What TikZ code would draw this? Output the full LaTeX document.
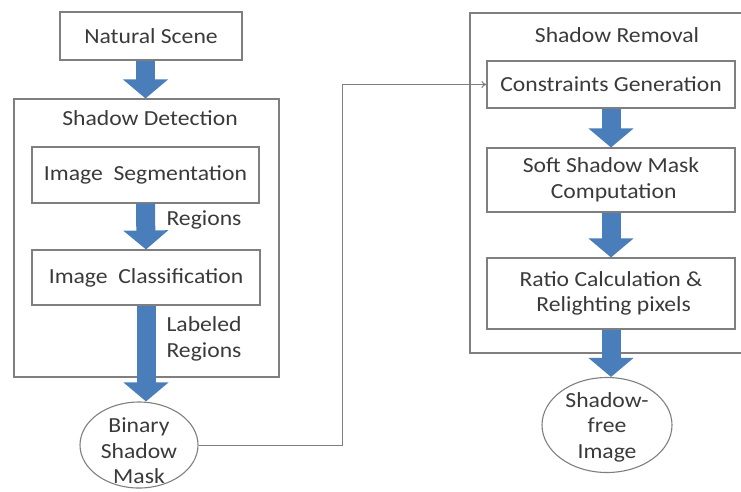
\documentclass[tikz,border=0pt]{standalone}
\usepackage{fontspec}
\setmainfont{Carlito}[FakeStretch=1.1]
\usetikzlibrary{arrows.meta,shapes.geometric}
\definecolor{txtgray}{HTML}{3A3A3A}
\definecolor{boxgray}{HTML}{7F7F7F}
\definecolor{flowblue}{HTML}{4A7EBB}

\begin{document}
\begin{tikzpicture}[x=1pt,y=-1pt,
  font=\fontsize{21.5}{25.5}\selectfont,text=txtgray,
  box/.style={draw=boxgray,line width=1.1pt,inner sep=0pt,align=center},
  blob/.style={ellipse,draw=boxgray,line width=1.1pt,inner sep=0pt},
  fat/.style={draw=flowblue,line width=19pt,-{Triangle[width=44pt,length=19pt]}},
  link/.style={draw=boxgray,line width=1pt,-{To[length=5pt,width=7pt]}}]
  \useasboundingbox (0,0) rectangle (741,491);
  % left column: detection
  \node[box,minimum width=182pt,minimum height=48pt] (scene) at (151,36) {Natural Scene};
  \node[box,minimum width=265pt,minimum height=278pt] (detect) at (146.5,238) {};
  \node (dtitle) at (150,118) {Shadow Detection};
  \node[box,minimum width=227pt,minimum height=56pt] (seg) at (145.5,175) {Image~~Segmentation};
  \node[box,minimum width=228pt,minimum height=55pt] (cls) at (146,277.5) {Image~~Classification};
  \node[blob,minimum width=118pt,minimum height=86pt,
    label={[align=center,yshift=-6pt]center:Binary\\Shadow\\Mask}] (binmask) at (139,445) {};
  \draw[fat] (scene.south -| seg) -- (seg |- detect.north);
  \draw[fat] (seg.south) -- (cls.north);
  \draw[fat] (cls.south) -- (cls.south |- binmask.north);
  \node[anchor=west] (reglbl) at (163,220) {Regions};
  \node[anchor=west,align=left] (lablbl) at (163,339) {Labeled\\Regions};
  % right column: removal
  \node[box,minimum width=273pt,minimum height=340pt] (removal) at (606.5,183) {};
  \node (rtitle) at (617,35) {Shadow Removal};
  \node[box,minimum width=248pt,minimum height=47pt] (cons) at (611,84.5) {Constraints Generation};
  \node[box,minimum width=248pt,minimum height=64pt] (soft) at (611,180) {Soft Shadow Mask\\ \ Computation};
  \node[box,minimum width=248pt,minimum height=71pt] (ratio) at (611,293.5) {Ratio Calculation \&\\ \ Relighting pixels};
  \node[blob,minimum width=130pt,minimum height=95pt,
    label={[align=center,yshift=-2pt]center:Shadow-\\free\\Image}] (freeimg) at (607,425) {};
  \draw[fat] (cons.south) -- (soft.north);
  \draw[fat] (soft.south) -- (ratio.north);
  \draw[fat] (ratio.south) -- (ratio.south |- freeimg.north);
  % mask handed over
  \coordinate (bend) at (342,84.5);
  \draw[link] (binmask.east) -| (bend) -- (cons.west);
\end{tikzpicture}
\end{document}
